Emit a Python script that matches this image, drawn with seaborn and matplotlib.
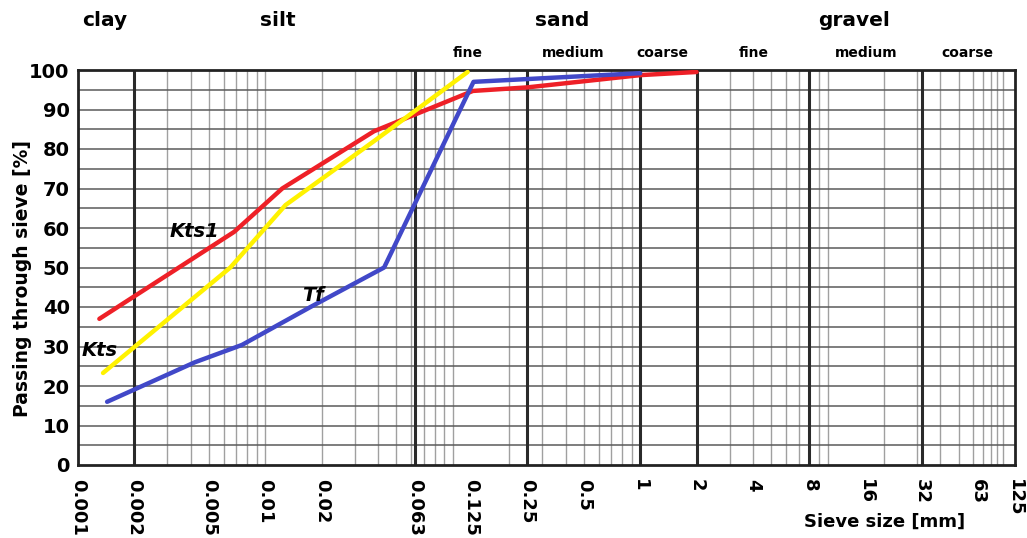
import numpy as np
import pandas as pd
import matplotlib
matplotlib.use("Agg")
import matplotlib.pyplot as plt
import seaborn as sns

# grain size data (sieve size in mm, passing in %)
kts1_size = [0.0013, 0.0068, 0.0123, 0.038, 0.128, 0.25, 1, 2]
kts1_pass = [37, 59, 70, 84.5, 94.7, 95.6, 98.7, 99.5]

kts_size = [0.00136, 0.0065, 0.0128, 0.038, 0.12]
kts_pass = [23.3, 50, 65.8, 82, 99.5]

tf_size = [0.00143, 0.0042, 0.0075, 0.0174, 0.043, 0.129, 1]
tf_pass = [16, 26, 30.4, 40, 50, 97, 99.2]

tick_values = [0.001, 0.002, 0.005, 0.01, 0.02, 0.063, 0.125, 0.25, 0.5,
               1, 2, 4, 8, 16, 32, 63, 125]
tick_labels = ['0.001', '0.002', '0.005', '0.01', '0.02', '0.063', '0.125', '0.25', '0.5',
               '1', '2', '4', '8', '16', '32', '63', '125']
thick_lines = [0.002, 0.063, 0.25, 1, 2, 8, 32]

df = pd.concat([
    pd.DataFrame({'size': kts1_size, 'passing': kts1_pass, 'sample': 'Kts1'}),
    pd.DataFrame({'size': kts_size, 'passing': kts_pass, 'sample': 'Kts'}),
    pd.DataFrame({'size': tf_size, 'passing': tf_pass, 'sample': 'Tf'}),
])
colors = {'Kts1': '#ee2027', 'Kts': '#fff200', 'Tf': '#4148c8'}

sns.set_style("white")
plt.rcParams['font.family'] = ['DejaVu Sans']
plt.rcParams['text.color'] = 'black'
plt.rcParams['axes.labelcolor'] = 'black'
plt.rcParams['xtick.color'] = 'black'
plt.rcParams['ytick.color'] = 'black'

# log scale, last segment (63-125) squeezed to fit the printed sheet
L63 = np.log10(63)
k = (2 - L63) / (np.log10(125) - L63)

def fwd(x):
    l = np.log10(np.clip(x, 1e-12, None))
    return np.where(l > L63, L63 + (l - L63) * k, l)

def inv(y):
    y = np.asarray(y, dtype=float)
    return np.where(y > L63, 10 ** (L63 + (y - L63) / k), 10 ** y)

fig = plt.figure(figsize=(10.27, 5.38), dpi=100)
ax = fig.add_axes([78 / 1027, 1 - 465 / 538, 937 / 1027, 395 / 538])
ax.set_xscale('function', functions=(fwd, inv))

# paper grid
minor = [m * 10.0 ** d for d in range(-3, 2) for m in range(1, 10)] + [100]
for v in minor:
    ax.axvline(v, color='#a0a0a0', lw=1.0, zorder=1)
for v in thick_lines:
    ax.axvline(v, color='#2a2a2a', lw=2.2, zorder=1.5)
for yv in range(5, 100, 5):
    ax.axhline(yv, color='#5a5a5a', lw=1.1, zorder=1)

sns.lineplot(data=df, x='size', y='passing', hue='sample', hue_order=['Kts1', 'Kts', 'Tf'],
             palette=colors, linewidth=3.2, legend=False, ax=ax, zorder=3)

ax.set_xlim(0.001, 125)
ax.set_ylim(0, 100)
ax.set_xticks(tick_values)
ax.set_xticklabels(tick_labels, rotation=270, fontsize=13, fontweight='bold')
ax.minorticks_off()
ax.set_yticks(range(0, 101, 10))
ax.set_yticklabels([str(v) for v in range(0, 101, 10)], fontsize=14, fontweight='bold')
ax.tick_params(axis='y', length=0, pad=6)
ax.tick_params(axis='x', length=0, pad=10)

for s in ax.spines.values():
    s.set_color('#222222')
    s.set_linewidth(2)
    s.set_visible(True)

ax.set_ylabel('Passing through sieve [%]', fontsize=13.5, fontweight='bold')
ax.yaxis.set_label_coords(-0.049, 0.473)
ax.set_xlabel('Sieve size [mm]', fontsize=13, fontweight='bold')
ax.xaxis.set_label_coords(0.861, -0.122)

# sample labels
ax.text(0.0042, 59, 'Kts1', fontsize=14, fontweight='bold', style='italic', ha='center', va='center', zorder=4)
ax.text(0.0013, 29, 'Kts', fontsize=14, fontweight='bold', style='italic', ha='center', va='center', zorder=4)
ax.text(0.018, 43, 'Tf', fontsize=14, fontweight='bold', style='italic', ha='center', va='center', zorder=4)

# soil classes above the plot
for name, px in [('clay', 105), ('silt', 278), ('sand', 562), ('gravel', 854)]:
    fig.text(px / 1027, 1 - 20 / 538, name, fontsize=14.5, fontweight='bold', ha='center', va='center')
for name, px in [('fine', 468), ('medium', 573), ('coarse', 662),
                 ('fine', 754), ('medium', 866), ('coarse', 967)]:
    fig.text(px / 1027, 1 - 53 / 538, name, fontsize=10, fontweight='bold', ha='center', va='center')

plt.savefig('out.png', dpi=100)
